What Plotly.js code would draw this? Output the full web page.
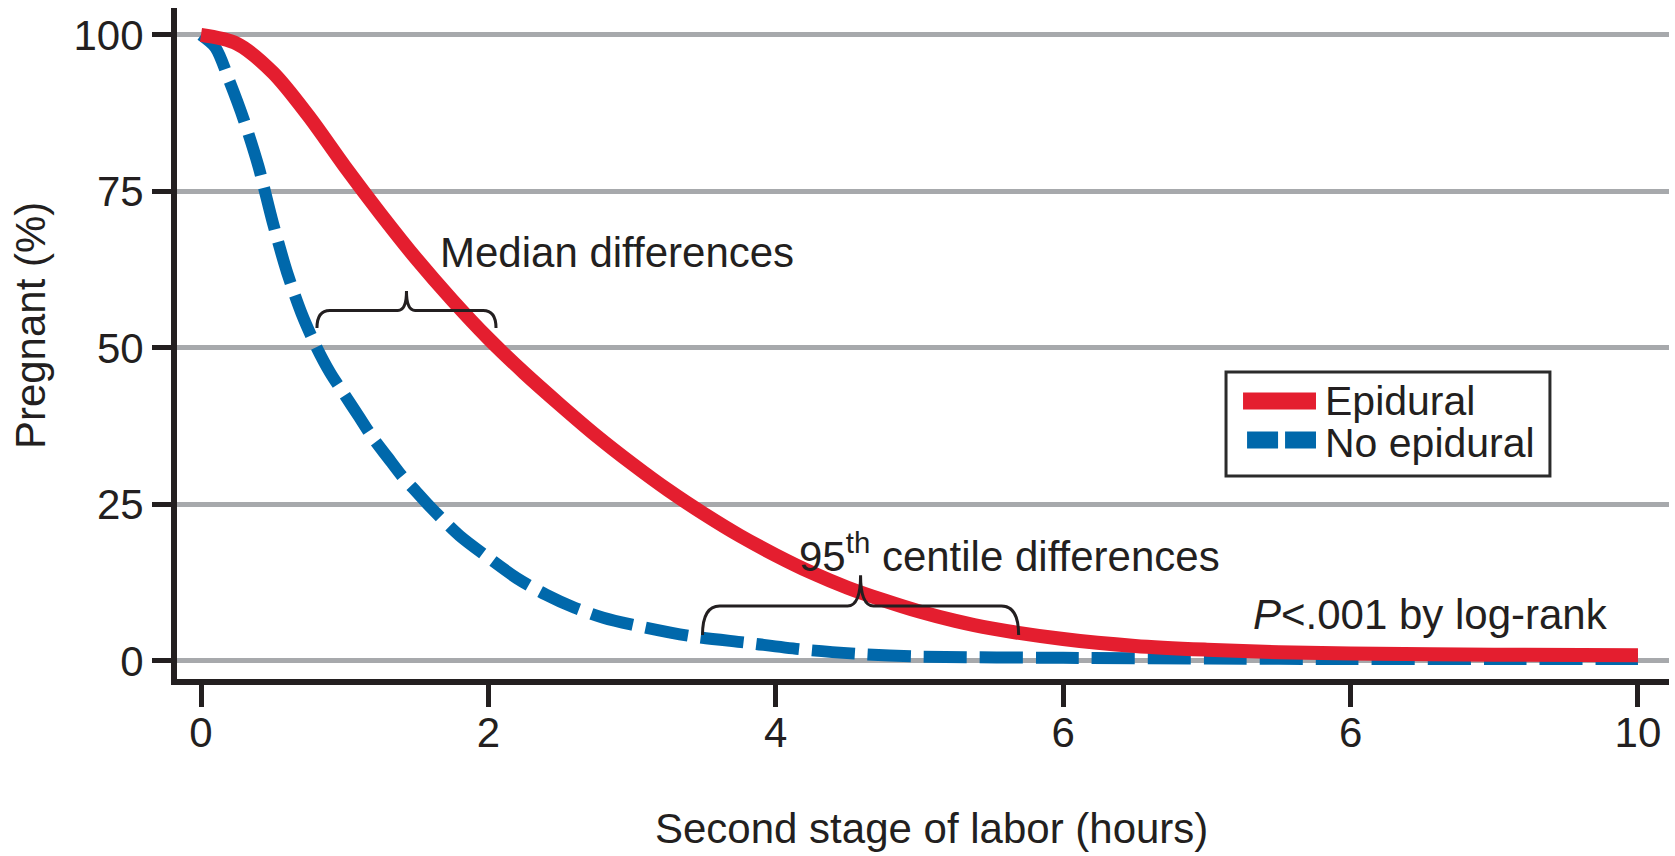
<!DOCTYPE html>
<html><head><meta charset="utf-8">
<script src="https://cdn.plot.ly/plotly-3.0.1.min.js"></script>
<style>html,body{margin:0;padding:0;background:#fff}#chart{width:1675px;height:856px}</style>
</head><body><div id="chart"></div>
<script>
// ---- data ----
const hoursEpidural = [0, 0.25, 0.5, 0.75, 1.0, 1.25, 1.5, 1.75, 2.0, 2.25, 2.5, 2.75, 3.0, 3.25, 3.5, 3.75, 4.0, 4.25, 4.5, 4.75, 5.0, 5.25, 5.5, 6.0, 6.5, 7.0, 7.5, 8.0, 9.0, 10.0];
const pregnantEpidural = [100, 98.6, 94.0, 87.0, 79.0, 71.4, 64.2, 57.6, 51.5, 46.0, 40.9, 36.0, 31.5, 27.3, 23.5, 20.0, 16.9, 14.1, 11.7, 9.7, 7.9, 6.4, 5.2, 3.5, 2.4, 1.8, 1.4, 1.2, 1.0, 0.9];
const hoursNoEpidural = [0, 0.1, 0.2, 0.3, 0.4, 0.5, 0.6, 0.7, 0.8, 0.9, 1.0, 1.1, 1.2, 1.3, 1.4, 1.5, 1.6, 1.8, 2.0, 2.2, 2.4, 2.6, 2.8, 3.0, 3.4, 3.8, 4.2, 4.6, 5.0, 6.0, 7.0, 8.0, 9.0, 10.0];
const pregnantNoEpidural = [100, 98, 92.5, 86.3, 79, 70, 62, 55.5, 50.3, 46, 42.5, 39, 35.5, 32.5, 29.5, 27, 24.5, 20, 16.5, 13.2, 10.6, 8.5, 6.9, 5.8, 4.0, 2.9, 1.8, 1.1, 0.7, 0.5, 0.4, 0.3, 0.3, 0.3];
const seriesNames = ['Epidural', 'No epidural'];
const xTickValues = [0, 2, 4, 6, 8, 10];
const xTickLabels = ['0', '2', '4', '6', '6', '10'];
const yTickValues = [0, 25, 50, 75, 100];
const yTickLabels = ['0', '25', '50', '75', '100'];
const xTitle = 'Second stage of labor (hours)';
const yTitle = 'Pregnant (%)';
const medianLabel = 'Median differences';
const centileLabel = '95<sup>th</sup> centile differences';
const pValueLabel = '<i>P</i>&lt;.001 by log-rank';
// brace spans: [x start, x end, y end, y bar, y tip]
const medianBrace = [0.807, 2.053, 53.2, 56.0, 59.1];
const centileBrace = [3.49, 5.69, 4.15, 8.8, 13.7];

// ---- styling ----
const RED = '#e41e2f', BLUE = '#0068ab', INK = '#231f20', GRID = '#a7a9ac';
const FONT = 'Liberation Sans, Arial, Helvetica, sans-serif';
const FS = 42;

function bracePath(b, xr, xd) {
  const [x0, x1, yEnd, yBar, yTip] = b;
  const xm = (x0 + x1) / 2;
  return `M${x0},${yEnd} Q${x0},${yBar} ${x0 + xr},${yBar} L${xm - xd},${yBar} Q${xm},${yBar} ${xm},${yTip} ` +
         `Q${xm},${yBar} ${xm + xd},${yBar} L${x1 - xr},${yBar} Q${x1},${yBar} ${x1},${yEnd}`;
}

const traces = [
  {x: hoursNoEpidural, y: pregnantNoEpidural, name: seriesNames[1], type: 'scatter', mode: 'lines',
   line: {color: BLUE, width: 12, dash: '43px,13px', shape: 'spline', smoothing: 0.8}, showlegend: false, hoverinfo: 'x+y+name'},
  {x: hoursEpidural, y: pregnantEpidural, name: seriesNames[0], type: 'scatter', mode: 'lines',
   line: {color: RED, width: 14, shape: 'spline', smoothing: 0.9}, showlegend: false, hoverinfo: 'x+y+name'}
];

const txt = (text, x, y, extra) => Object.assign({text, x, y, xref: 'x', yref: 'y', showarrow: false,
  xanchor: 'left', yanchor: 'middle', font: {family: FONT, size: FS, color: INK}}, extra || {});

const layout = {
  width: 1675, height: 856,
  margin: {l: 177, r: 6, t: 8, b: 177, pad: 0},
  paper_bgcolor: '#fff', plot_bgcolor: '#fff',
  showlegend: false,
  font: {family: FONT, size: FS, color: INK},
  xaxis: {range: [-0.167, 10.216], tickmode: 'array', tickvals: xTickValues, ticktext: xTickLabels,
    ticks: 'outside', ticklen: 22, tickwidth: 5, tickcolor: INK, showline: true, linewidth: 6, linecolor: INK,
    ticklabelstandoff: -10,
    showgrid: false, zeroline: false, tickfont: {family: FONT, size: FS, color: INK}, fixedrange: true},
  yaxis: {range: [-2.88, 104.3], tickmode: 'array', tickvals: yTickValues, ticktext: yTickLabels,
    ticks: 'outside', ticklen: 19, tickwidth: 5, tickcolor: INK, showline: true, linewidth: 6, linecolor: INK,
    showgrid: true, gridcolor: GRID, gridwidth: 5, zeroline: false, tickfont: {family: FONT, size: FS, color: INK}, fixedrange: true},
  shapes: [
    {type: 'path', xref: 'x', yref: 'y', path: bracePath(medianBrace, 0.09, 0.06), line: {color: INK, width: 3}},
    {type: 'path', xref: 'x', yref: 'y', path: bracePath(centileBrace, 0.12, 0.09), line: {color: INK, width: 3}},
    // legend box
    {type: 'rect', xref: 'paper', yref: 'paper', x0: 0.7031, x1: 0.9202, y0: 0.3025, y1: 0.4575,
     line: {color: '#2b2b2b', width: 3}, fillcolor: '#fff', layer: 'above'},
    {type: 'line', xref: 'paper', yref: 'paper', x0: 0.7145, x1: 0.7634, y0: 0.4143, y1: 0.4143,
     line: {color: RED, width: 17}, layer: 'above'},
    {type: 'line', xref: 'paper', yref: 'paper', x0: 0.7172, x1: 0.7634, y0: 0.3562, y1: 0.3562,
     line: {color: BLUE, width: 17, dash: '31px,7px'}, layer: 'above'}
  ],
  annotations: [
    txt(medianLabel, 1.65, 65.3),
    txt(centileLabel, 4.15, 17.2),
    txt(pValueLabel, 7.31, 7.5),
    {text: seriesNames[0], xref: 'paper', yref: 'paper', x: 0.768, y: 0.4143, showarrow: false,
     xanchor: 'left', yanchor: 'middle', font: {family: FONT, size: 41, color: INK}},
    {text: seriesNames[1], xref: 'paper', yref: 'paper', x: 0.768, y: 0.3517, showarrow: false,
     xanchor: 'left', yanchor: 'middle', font: {family: FONT, size: 41, color: INK}},
    {text: xTitle, xref: 'paper', yref: 'paper', x: 0.5054, y: -0.2235, showarrow: false,
     xanchor: 'center', yanchor: 'middle', font: {family: FONT, size: FS, color: INK}},
    {text: yTitle, xref: 'paper', yref: 'paper', x: -0.0985, y: 0.526, showarrow: false, textangle: -90,
     xanchor: 'center', yanchor: 'middle', font: {family: FONT, size: FS, color: INK}}
  ]
};

Plotly.newPlot('chart', traces, layout, {displayModeBar: false, staticPlot: true});
</script>
</body></html>
